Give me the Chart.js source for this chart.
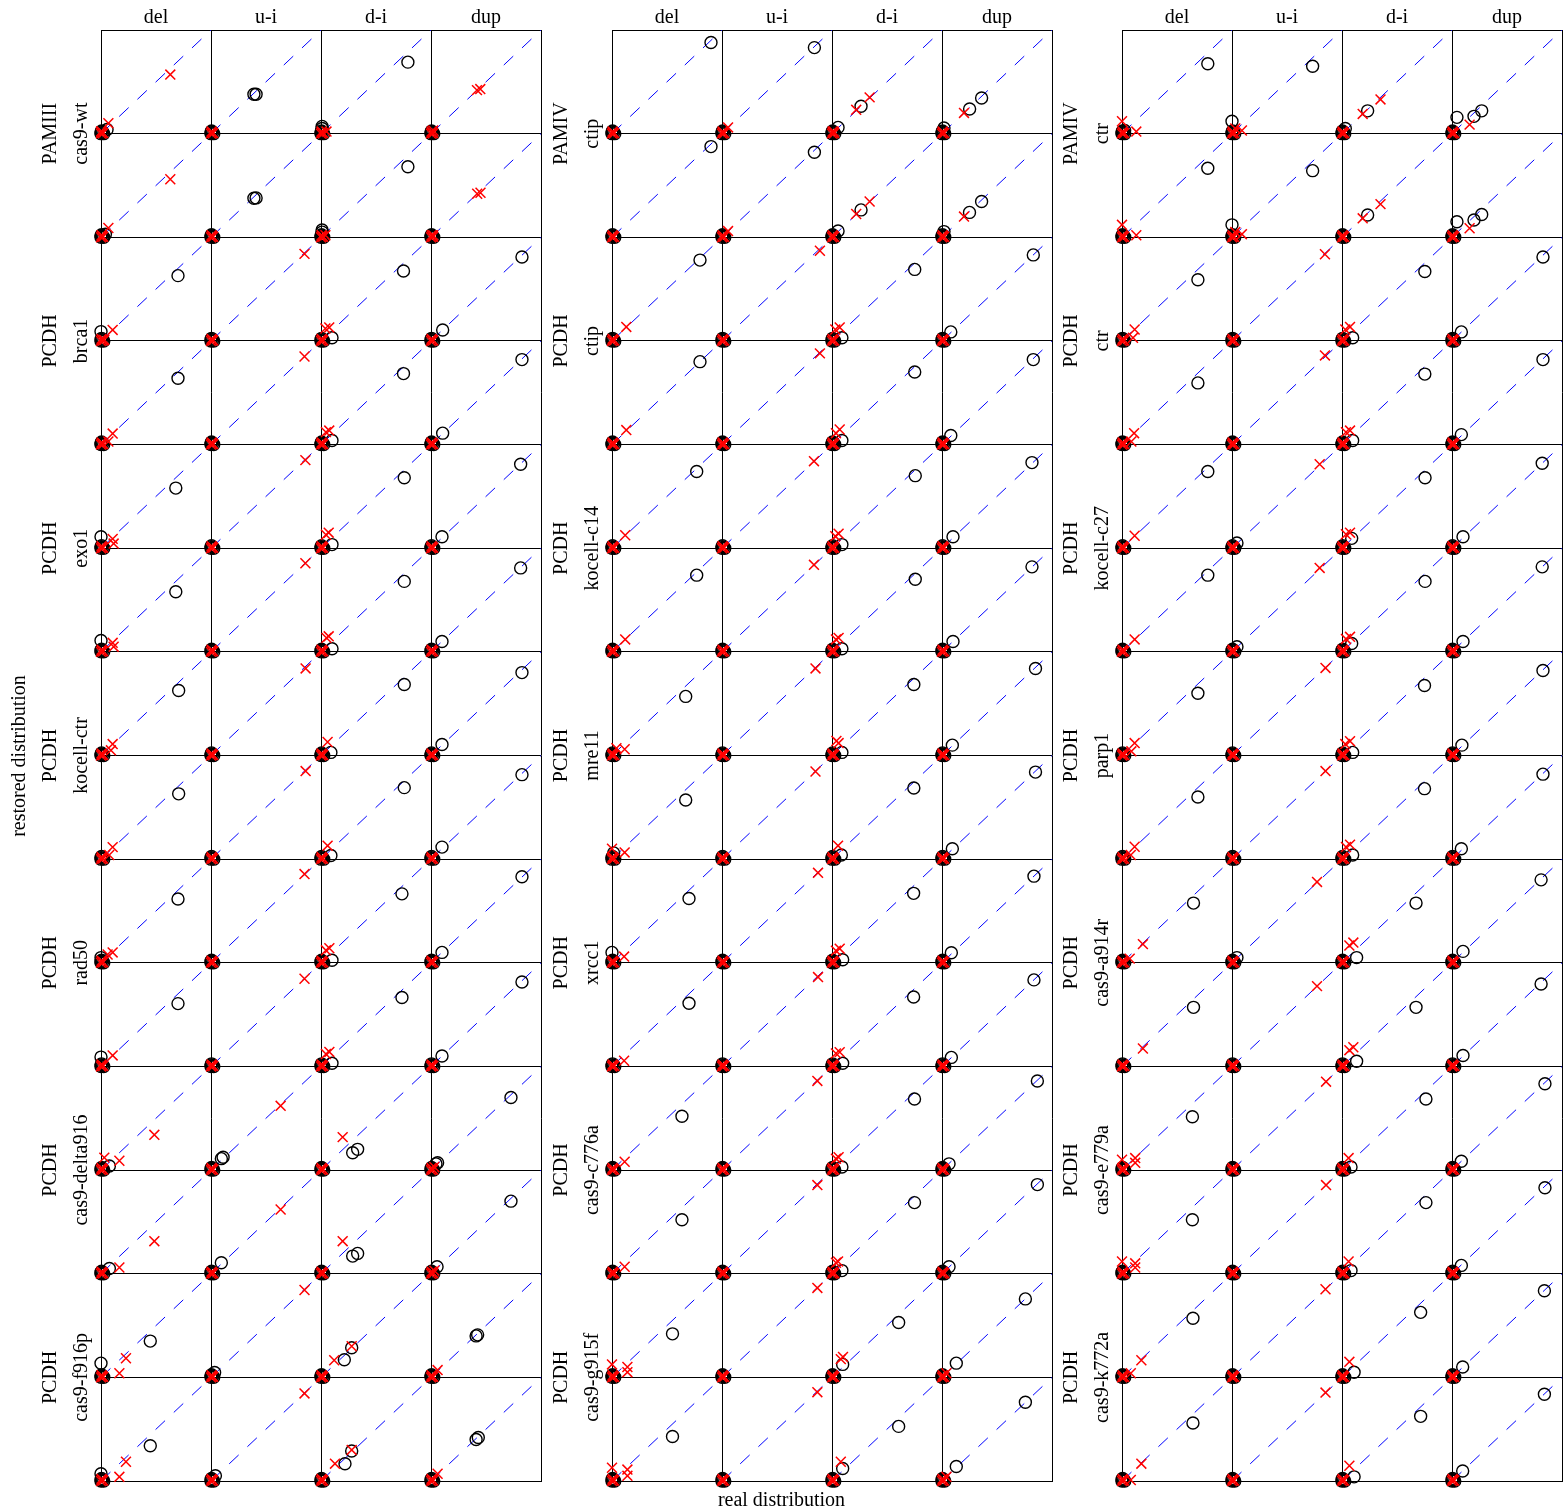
<!DOCTYPE html>
<html>
<head>
<meta charset="utf-8">
<script src="https://cdn.jsdelivr.net/npm/chart.js@4.4.0/dist/chart.umd.min.js"></script>
<style>
  html, body { margin: 0; padding: 0; background: #fff; }
  #wrap { position: relative; width: 1563px; height: 1512px; }
  #wrap canvas { position: absolute; left: 0; top: 0; }
</style>
</head>
<body>
<div id="wrap">
  <canvas id="chartA" width="1563" height="1512"></canvas>
  <canvas id="chartB" width="1563" height="1512"></canvas>
  <canvas id="chartC" width="1563" height="1512"></canvas>
</div>
<script>
// column titles (same for every block)
const colLabels = ['del', 'u-i', 'd-i', 'dup'];
// row group labels, one per pair of panel rows
const rowTopA = ['PAMIII', 'PCDH', 'PCDH', 'PCDH', 'PCDH', 'PCDH', 'PCDH'];
const rowNameA = ['cas9-wt', 'brca1', 'exo1', 'kocell-ctr', 'rad50', 'cas9-delta916', 'cas9-f916p'];
const rowTopB = ['PAMIV', 'PCDH', 'PCDH', 'PCDH', 'PCDH', 'PCDH', 'PCDH'];
const rowNameB = ['ctip', 'ctip', 'kocell-c14', 'mre11', 'xrcc1', 'cas9-c776a', 'cas9-g915f'];
const rowTopC = ['PAMIV', 'PCDH', 'PCDH', 'PCDH', 'PCDH', 'PCDH', 'PCDH'];
const rowNameC = ['ctr', 'ctr', 'kocell-c27', 'parp1', 'cas9-a914r', 'cas9-e779a', 'cas9-k772a'];

// the pile of near-zero points that sits at every panel origin
const originCircles = [[0, 0], [0.015, 0.01], [0.005, 0.025], [0.025, 0.0], [0, 0.015]];
const originCrosses = [[0, 0], [0.02, 0.005], [0.005, 0.02], [0.01, 0.01]];
// identity line (real = restored), panel units
const diagLine = [[0, 0], [1, 1]];

// [real, restored] per panel; rows top to bottom, cols del / u-i / d-i / dup
const circlesA = [
  [[[0.055,0.04]], [[0.39,0.38],[0.41,0.38]], [[0.79,0.69],[0.01,0.07],[0.01,0.05]], []],
  [[[0.04,0.03]], [[0.39,0.376],[0.41,0.38]], [[0.79,0.68],[0.01,0.07],[0.01,0.05]], []],
  [[[0.70,0.63],[0,0.09]], [], [[0.75,0.675],[0.10,0.03]], [[0.827,0.81],[0.106,0.106]]],
  [[[0.70,0.64]], [], [[0.75,0.685],[0.10,0.04]], [[0.827,0.82],[0.106,0.11]]],
  [[[0.68,0.58],[0,0.11]], [], [[0.757,0.68],[0.10,0.035]], [[0.815,0.81],[0.10,0.11]]],
  [[[0.68,0.58],[0,0.11]], [], [[0.757,0.68],[0.10,0.03]], [[0.815,0.81],[0.10,0.10]]],
  [[[0.706,0.627]], [], [[0.757,0.685],[0.09,0.03]], [[0.827,0.80],[0.10,0.106]]],
  [[[0.706,0.63]], [], [[0.757,0.69],[0.09,0.035]], [[0.827,0.815],[0.10,0.116]]],
  [[[0.70,0.615],[0,0.05]], [], [[0.736,0.665],[0.10,0.025]], [[0.827,0.83],[0.10,0.10]]],
  [[[0.70,0.606],[0,0.09]], [], [[0.736,0.665],[0.10,0.03]], [[0.827,0.815],[0.10,0.10]]],
  [[[0.076,0.04]], [[0.094,0.11],[0.11,0.124]], [[0.288,0.167],[0.333,0.20]], [[0.727,0.70],[0.045,0.06],[0.06,0.07]]],
  [[[0.076,0.05]], [[0.094,0.106]], [[0.288,0.17],[0.333,0.196]], [[0.727,0.70],[0.055,0.067]]],
  [[[0.448,0.35],[0,0.137]], [[0.033,0.047]], [[0.212,0.17],[0.279,0.286]], [[0.41,0.40],[0.424,0.41]]],
  [[[0.448,0.34],[0,0.07]], [[0.04,0.05]], [[0.218,0.167],[0.279,0.29]], [[0.41,0.40],[0.43,0.42]]]
];
const crossesA = [
  [[[0.63,0.57],[0.067,0.10],[0,0.02]], [], [[0.05,0.02]], [[0.418,0.42],[0.448,0.43],[0.02,0.03]]],
  [[[0.63,0.56],[0.067,0.09]], [], [[0.04,0.02]], [[0.42,0.42],[0.45,0.43],[0.02,0.02]]],
  [[[0.106,0.106],[0.03,0.01]], [[0.85,0.84]], [[0.04,0.12],[0.075,0.13]], []],
  [[[0.106,0.106],[0.067,0.03]], [[0.85,0.85]], [[0.045,0.12],[0.075,0.135]], []],
  [[[0.106,0.09],[0.115,0.045]], [[0.858,0.85]], [[0.045,0.13],[0.07,0.15]], []],
  [[[0.106,0.087],[0.115,0.05]], [[0.858,0.855]], [[0.05,0.135],[0.07,0.15]], []],
  [[[0.106,0.11],[0.09,0.05]], [[0.86,0.84]], [[0.06,0.13]], []],
  [[[0.106,0.116],[0.075,0.04]], [[0.86,0.85]], [[0.06,0.13]], []],
  [[[0.106,0.10],[0.06,0.08]], [[0.85,0.856]], [[0.045,0.12],[0.076,0.14]], []],
  [[[0.106,0.106]], [[0.85,0.846]], [[0.045,0.12],[0.076,0.14]], []],
  [[[0.485,0.34],[0.167,0.09],[0.03,0.12]], [[0.633,0.62]], [[0.197,0.318]], [[0.03,0.03]]],
  [[[0.485,0.314],[0.167,0.06]], [[0.633,0.62]], [[0.197,0.314]], [[0.03,0.03]]],
  [[[0.227,0.184],[0.167,0.04]], [[0.85,0.843]], [[0.12,0.165],[0.279,0.30]], [[0.06,0.07]]],
  [[[0.227,0.186],[0.167,0.04]], [[0.85,0.845]], [[0.127,0.167],[0.279,0.30]], [[0.06,0.07]]]
];

const circlesB = [
  [[[0.90,0.88]], [[0.84,0.83]], [[0.264,0.264],[0.055,0.06]], [[0.251,0.238],[0.36,0.344],[0.018,0.055]]],
  [[[0.90,0.875]], [[0.84,0.82]], [[0.264,0.264],[0.055,0.06]], [[0.25,0.24],[0.36,0.345],[0.018,0.055]]],
  [[[0.80,0.78]], [], [[0.752,0.69],[0.09,0.03]], [[0.83,0.83],[0.08,0.087]]],
  [[[0.80,0.80]], [], [[0.752,0.70],[0.09,0.04]], [[0.83,0.82],[0.08,0.087]]],
  [[[0.77,0.74]], [], [[0.757,0.70],[0.09,0.035]], [[0.818,0.826],[0.10,0.11]]],
  [[[0.77,0.74]], [], [[0.757,0.70],[0.09,0.03]], [[0.818,0.82],[0.10,0.10]]],
  [[[0.67,0.57]], [], [[0.744,0.685],[0.09,0.03]], [[0.85,0.84],[0.094,0.10]]],
  [[[0.67,0.57],[0.015,0.06]], [], [[0.744,0.687],[0.085,0.04]], [[0.85,0.84],[0.094,0.10]]],
  [[[0.70,0.62],[0,0.1]], [], [[0.742,0.67],[0.097,0.03]], [[0.836,0.836],[0.085,0.097]]],
  [[[0.70,0.61]], [], [[0.742,0.67],[0.097,0.03]], [[0.836,0.835],[0.085,0.087]]],
  [[[0.636,0.52]], [], [[0.75,0.686],[0.09,0.03]], [[0.867,0.86],[0.064,0.06]]],
  [[[0.636,0.52]], [], [[0.75,0.686],[0.09,0.03]], [[0.867,0.86],[0.064,0.067]]],
  [[[0.55,0.42]], [], [[0.606,0.53],[0.097,0.125]], [[0.758,0.757],[0.13,0.137]]],
  [[[0.55,0.43]], [], [[0.606,0.527],[0.097,0.12]], [[0.758,0.76],[0.13,0.14]]]
];
const crossesB = [
  [[], [[0.055,0.06]], [[0.22,0.23],[0.342,0.35],[0.015,0.02]], [[0.2,0.2]]],
  [[], [[0.055,0.06]], [[0.22,0.225],[0.342,0.345]], [[0.2,0.2]]],
  [[[0.13,0.135]], [[0.89,0.87]], [[0.03,0.11],[0.07,0.13]], []],
  [[[0.13,0.14]], [[0.89,0.88]], [[0.036,0.11],[0.07,0.145]], []],
  [[[0.12,0.125]], [[0.836,0.84]], [[0.03,0.116],[0.06,0.14]], []],
  [[[0.12,0.12]], [[0.836,0.84]], [[0.036,0.12],[0.06,0.135]], []],
  [[[0.115,0.06],[0.04,0.07]], [[0.85,0.84]], [[0.04,0.14],[0.06,0.12]], []],
  [[[0.115,0.065],[0,0.1]], [[0.85,0.846]], [[0.055,0.13]], []],
  [[[0.11,0.06]], [[0.873,0.868]], [[0.036,0.117],[0.07,0.136]], []],
  [[[0.11,0.055]], [[0.873,0.862]], [[0.036,0.126],[0.07,0.138]], []],
  [[[0.115,0.08]], [[0.867,0.86]], [[0.036,0.11],[0.06,0.124]], []],
  [[[0.115,0.067]], [[0.867,0.855]], [[0.036,0.106],[0.055,0.118]], []],
  [[[0.14,0.1],[0.14,0.05],[0,0.125]], [[0.867,0.863]], [[0.08,0.176],[0.1,0.196]], [[0.04,0.04]]],
  [[[0.14,0.11],[0.14,0.05],[0,0.128]], [[0.867,0.857]], [[0.08,0.186]], [[0.04,0.04]]]
];

const circlesC = [
  [[[0.78,0.675],[0.024,0.03]], [[0.733,0.65],[0,0.12]], [[0.233,0.22],[0.03,0.05]], [[0.045,0.157],[0.2,0.167],[0.27,0.22]]],
  [[[0.78,0.666]], [[0.733,0.643],[0,0.12]], [[0.233,0.215]], [[0.045,0.15],[0.2,0.167],[0.27,0.22]]],
  [[[0.69,0.59]], [], [[0.753,0.67],[0.097,0.03]], [[0.827,0.81],[0.085,0.087]]],
  [[[0.69,0.595]], [], [[0.753,0.68],[0.097,0.04]], [[0.827,0.82],[0.085,0.096]]],
  [[[0.78,0.74]], [[0.045,0.05]], [[0.755,0.68],[0.088,0.095]], [[0.82,0.82],[0.1,0.11]]],
  [[[0.78,0.74]], [[0.045,0.05]], [[0.755,0.68],[0.088,0.08]], [[0.82,0.82],[0.1,0.10]]],
  [[[0.69,0.60]], [], [[0.75,0.675],[0.097,0.03]], [[0.827,0.82],[0.09,0.10]]],
  [[[0.69,0.60]], [], [[0.75,0.68],[0.097,0.04]], [[0.827,0.82],[0.085,0.10]]],
  [[[0.65,0.576]], [[0.045,0.05]], [[0.673,0.576],[0.133,0.05]], [[0.81,0.80],[0.1,0.11]]],
  [[[0.65,0.57]], [], [[0.673,0.57],[0.133,0.05]], [[0.81,0.795],[0.1,0.106]]],
  [[[0.64,0.515]], [], [[0.763,0.686],[0.082,0.03]], [[0.845,0.833],[0.085,0.085]]],
  [[[0.64,0.52]], [], [[0.763,0.686],[0.082,0.03]], [[0.845,0.83],[0.085,0.08]]],
  [[[0.645,0.57]], [], [[0.715,0.627],[0.11,0.05]], [[0.84,0.835],[0.097,0.1]]],
  [[[0.645,0.56]], [], [[0.715,0.624],[0.11,0.04]], [[0.84,0.837],[0.097,0.097]]]
];
const crossesC = [
  [[[0,0.12],[0.13,0.02]], [[0.09,0.03],[0.03,0.05]], [[0.188,0.19],[0.35,0.33]], [[0.16,0.087]]],
  [[[0,0.12],[0.13,0.02]], [[0.09,0.03],[0.03,0.05]], [[0.188,0.183],[0.35,0.32]], [[0.16,0.087]]],
  [[[0.115,0.11],[0.1,0.03]], [[0.845,0.836]], [[0.03,0.11],[0.073,0.135]], []],
  [[[0.11,0.11],[0.085,0.03]], [[0.845,0.86]], [[0.036,0.12],[0.073,0.135]], []],
  [[[0.115,0.12]], [[0.797,0.81]], [[0.036,0.135],[0.073,0.15]], []],
  [[[0.115,0.12]], [[0.797,0.81]], [[0.036,0.125],[0.073,0.145]], []],
  [[[0.115,0.12],[0.085,0.04]], [[0.85,0.845]], [[0.03,0.11],[0.073,0.138]], []],
  [[[0.115,0.12],[0.08,0.04]], [[0.85,0.85]], [[0.036,0.117],[0.073,0.14]], []],
  [[[0.19,0.18],[0.07,0.04]], [[0.773,0.78]], [[0.067,0.167],[0.103,0.195]], []],
  [[[0.19,0.173]], [[0.773,0.775]], [[0.067,0.157],[0.103,0.185]], []],
  [[[0,0.1],[0.12,0.07],[0.12,0.116]], [[0.855,0.853]], [[0.06,0.116]], []],
  [[[0,0.118],[0.12,0.06],[0.12,0.1]], [[0.855,0.855]], [[0.06,0.118]], []],
  [[[0.176,0.165],[0.08,0.04]], [[0.85,0.85]], [[0.067,0.15]], []],
  [[[0.176,0.167],[0.08,0.01]], [[0.85,0.853]], [[0.067,0.147]], []]
];

const NROWS = 14;

// panel (r, c) occupies x in [c, c+1] and y in [13-r, 14-r] of one block chart
function panelPoints(grid, extra) {
    let pts = [];
    grid.forEach((row, r) => {
        row.forEach((cell, c) => {
            extra.concat(cell).forEach(p => {
                pts.push({x: c + p[0], y: NROWS - 1 - r + p[1]});
            });
        });
    });
    return pts;
}

function diagonals() {
    let pts = [];
    for (let r = 0; r < NROWS; r++) {
        for (let c = 0; c < colLabels.length; c++) {
            diagLine.forEach(p => pts.push({x: c + p[0], y: NROWS - 1 - r + p[1]}));
            pts.push({x: c + 1, y: null}); // break between panels
        }
    }
    return pts;
}

function drawRotated(ctx, text, x, y) {
    ctx.save();
    ctx.translate(x, y);
    ctx.rotate(-Math.PI / 2);
    ctx.fillText(text, 0, 0);
    ctx.restore();
}

const panelLabels = {
    id: 'panelLabels',
    afterDraw(chart, args, opts) {
        const {ctx, chartArea, scales} = chart;
        const tops = [rowTopA, rowTopB, rowTopC][opts.group];
        const names = [rowNameA, rowNameB, rowNameC][opts.group];
        ctx.save();
        ctx.fillStyle = '#000';
        ctx.font = '20px "Liberation Serif", "DejaVu Serif", serif';
        ctx.textAlign = 'center';
        ctx.textBaseline = 'alphabetic';
        colLabels.forEach((t, c) => {
            ctx.fillText(t, scales.x.getPixelForValue(c + 0.5), chartArea.top - 7);
        });
        tops.forEach((t, k) => {
            const y = scales.y.getPixelForValue(NROWS - 1 - 2 * k);
            drawRotated(ctx, t, chartArea.left - 45, y);
            drawRotated(ctx, names[k], chartArea.left - 14, y);
        });
        if (opts.group === 0) drawRotated(ctx, 'restored distribution', 25, chart.height / 2);
        if (opts.group === 1) ctx.fillText('real distribution', chart.width / 2, 1506);
        ctx.restore();
    }
};

function makeChart(id, group, circles, crosses, padLeft) {
    const axisCommon = {
        type: 'linear',
        grid: {color: '#000', lineWidth: 1, drawTicks: false},
        border: {display: true, color: '#000', width: 1},
        ticks: {display: false, stepSize: 1}
    };
    return new Chart(document.getElementById(id), {
        type: 'scatter',
        data: {
            datasets: [{
                label: 'restored (x)',
                data: panelPoints(crosses, originCrosses),
                pointStyle: 'crossRot',
                pointRadius: 7,
                borderColor: '#ff0000',
                backgroundColor: 'transparent',
                borderWidth: 1.5,
                clip: false
            }, {
                label: 'restored (o)',
                data: panelPoints(circles, originCircles),
                pointStyle: 'circle',
                pointRadius: 6,
                borderColor: '#000000',
                backgroundColor: 'transparent',
                borderWidth: 1.4,
                clip: false
            }, {
                type: 'line',
                label: 'identity',
                data: diagonals(),
                borderColor: '#0000ff',
                borderWidth: 1,
                borderDash: [13, 12],
                pointRadius: 0,
                fill: false,
                spanGaps: false
            }]
        },
        options: {
            responsive: false,
            animation: false,
            events: [],
            layout: {
                autoPadding: false,
                padding: {left: padLeft, right: 1563 - padLeft - 440, top: 30, bottom: 31}
            },
            plugins: {
                legend: {display: false},
                tooltip: {enabled: false},
                panelLabels: {group: group}
            },
            scales: {
                x: Object.assign({}, axisCommon, {position: 'bottom', min: 0, max: colLabels.length}),
                y: Object.assign({}, axisCommon, {position: 'left', min: 0, max: NROWS})
            }
        },
        plugins: [panelLabels]
    });
}

makeChart('chartA', 0, circlesA, crossesA, 101);
makeChart('chartB', 1, circlesB, crossesB, 612);
makeChart('chartC', 2, circlesC, crossesC, 1122);
</script>
</body>
</html>
